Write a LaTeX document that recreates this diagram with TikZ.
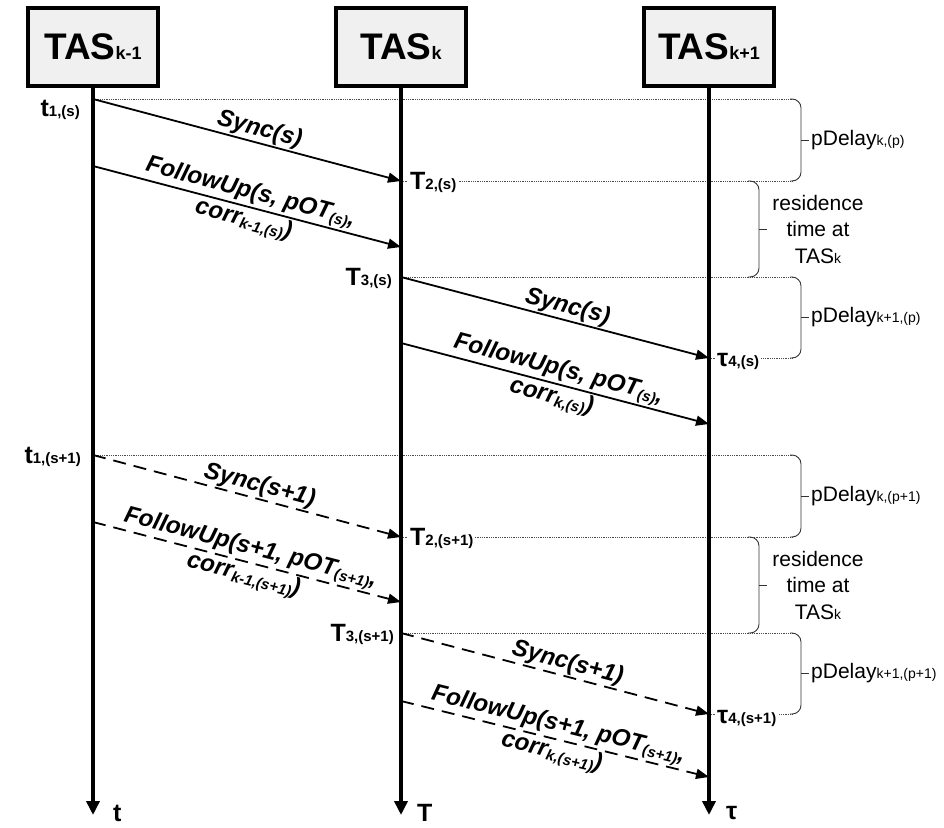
\documentclass[tikz,border=0pt]{standalone}
\usepackage{fontspec}
\setmainfont{Liberation Sans}
\usetikzlibrary{positioning,arrows.meta}
\newcommand{\tsub}[1]{{\fontsize{18}{18}\selectfont #1}}
\newcommand{\ssub}[1]{{\fontsize{15}{15}\selectfont #1}}
\newcommand{\dsub}[1]{{\fontsize{14}{14}\selectfont #1}}
\newcommand{\lsub}[1]{\raisebox{-3pt}{\fontsize{15}{15}\selectfont #1}}
\tikzset{
  tasbox/.style={draw, line width=3.5pt, fill=black!6, minimum width=130pt, minimum height=78pt, font=\fontsize{37}{37}\selectfont\bfseries},
  lifeline/.style={line width=4pt, -{Triangle[length=14pt,width=13pt]}},
  msg/.style={line width=1.8pt, -{Triangle[length=13pt,width=10pt]}},
  msgdash/.style={msg, dash pattern=on 13pt off 8pt},
  msglabel/.style={font=\fontsize{24}{28}\selectfont\bfseries\itshape, sloped, align=center, inner sep=1pt},
  stamp/.style={font=\fontsize{25}{25}\selectfont\bfseries, fill=white, inner sep=2pt},
  axislabel/.style={font=\fontsize{25}{25}\selectfont\bfseries, anchor=west, inner sep=1pt},
  guide/.style={densely dotted, line width=0.8pt, black!70},
  bracket/.style={line width=0.9pt, black!80, rounded corners=9pt},
  delaylabel/.style={font=\fontsize{21}{26.5}\selectfont, align=center, inner sep=1pt}
}
\begin{document}
\begin{tikzpicture}[x=1pt, y=-1pt]
  \useasboundingbox (0,0) rectangle (944,827);
  % time-aware systems
  \node[tasbox] (tasa) at (93,47) {TAS\tsub{k-1}};
  \node[tasbox] (tasb) at (401,47) {TAS\tsub{k}};
  \node[tasbox] (tasc) at (709,47) {TAS\tsub{k+1}};
  % points on the time lines
  \coordinate (a1) at (93,99);  \coordinate (a2) at (93,166);
  \coordinate (a3) at (93,455); \coordinate (a4) at (93,522);
  \coordinate (aend) at (93,815);
  \coordinate (b1) at (401,181); \coordinate (b2) at (401,247);
  \coordinate (b3) at (401,277); \coordinate (b4) at (401,343);
  \coordinate (b5) at (401,537); \coordinate (b6) at (401,602);
  \coordinate (b7) at (401,633); \coordinate (b8) at (401,701);
  \coordinate (bend) at (401,815);
  \coordinate (c1) at (709,358); \coordinate (c2) at (709,424);
  \coordinate (c3) at (709,714); \coordinate (c4) at (709,777);
  \coordinate (cend) at (709,815);
  % dotted guides and braces
  \foreach \x/\y in {93/99, 401/181, 401/277, 709/358, 93/455, 401/537, 401/633, 709/714}
    \draw[guide] (\x,\y) -- (792,\y);
  \foreach \top/\bot/\lab [count=\i] in {99/181/{pDelay\dsub{k,(p)}}, 277/358/{pDelay\dsub{k+1,(p)}},
      455/537/{pDelay\dsub{k,(p+1)}}, 633/714/{pDelay\dsub{k+1,(p+1)}}} {
    \draw[bracket] (790,\top) -- (801,\top) -- (801,\bot) -- (790,\bot);
    \draw[bracket] (801,{(\top+\bot)/2}) -- ++(8,0);
    \node[delaylabel, anchor=west] (pd\i) at (810,{(\top+\bot)/2}) {\lab};
  }
  \foreach \top/\bot [count=\i] in {181/277, 537/633} {
    \draw[bracket] (748,\top) -- (759,\top) -- (759,\bot) -- (748,\bot);
    \draw[bracket] (759,{(\top+\bot)/2}) -- ++(8,0);
    \node[delaylabel] (rt\i) at (818,{(\top+\bot)/2}) {residence\\time at\\TAS\dsub{k}};
  }
  % timestamps
  \node[stamp, anchor=east] (t1s) at (82,110) {t\ssub{1,(s)}};
  \node[stamp, anchor=west] (t2s) at (408,182) {T\ssub{2,(s)}};
  \node[stamp, anchor=east] (t3s) at (394,278) {T\ssub{3,(s)}};
  \node[stamp, anchor=west] (t4s) at (715,361) {τ\ssub{4,(s)}};
  \node[stamp, anchor=east] (t1n) at (83,457) {t\ssub{1,(s+1)}};
  \node[stamp, anchor=west] (t2n) at (408,538) {T\ssub{2,(s+1)}};
  \node[stamp, anchor=east] (t3n) at (396,634) {T\ssub{3,(s+1)}};
  \node[stamp, anchor=west] (t4n) at (715,718) {τ\ssub{4,(s+1)}};
  % time lines
  \draw[lifeline] (tasa.south) -- (aend);
  \draw[lifeline] (tasb.south) -- (bend);
  \draw[lifeline] (tasc.south) -- (cend);
  \node[axislabel] (ta) at (112,813) {t};
  \node[axislabel] (tb) at (416,813) {T};
  \node[axislabel] (tc) at (725,813) {τ};
  % messages of sync interval s
  \draw[msg] (a1) -- node[msglabel, above, pos=0.53] (m1) {Sync(s)} (b1);
  \draw[msg] (a2) -- node[msglabel] (m2) {FollowUp(s, pOT\lsub{(s)},\\corr\lsub{k-1,(s)})} (b2);
  \draw[msg] (b3) -- node[msglabel, above, pos=0.53] (m3) {Sync(s)} (c1);
  \draw[msg] (b4) -- node[msglabel] (m4) {FollowUp(s, pOT\lsub{(s)},\\corr\lsub{k,(s)})} (c2);
  % messages of sync interval s+1
  \draw[msgdash] (a3) -- node[msglabel, above, pos=0.53] (m5) {Sync(s+1)} (b5);
  \draw[msgdash] (a4) -- node[msglabel] (m6) {FollowUp(s+1, pOT\lsub{(s+1)},\\corr\lsub{k-1,(s+1)})} (b6);
  \draw[msgdash] (b7) -- node[msglabel, above, pos=0.53] (m7) {Sync(s+1)} (c3);
  \draw[msgdash] (b8) -- node[msglabel] (m8) {FollowUp(s+1, pOT\lsub{(s+1)},\\corr\lsub{k,(s+1)})} (c4);
\end{tikzpicture}
\end{document}
